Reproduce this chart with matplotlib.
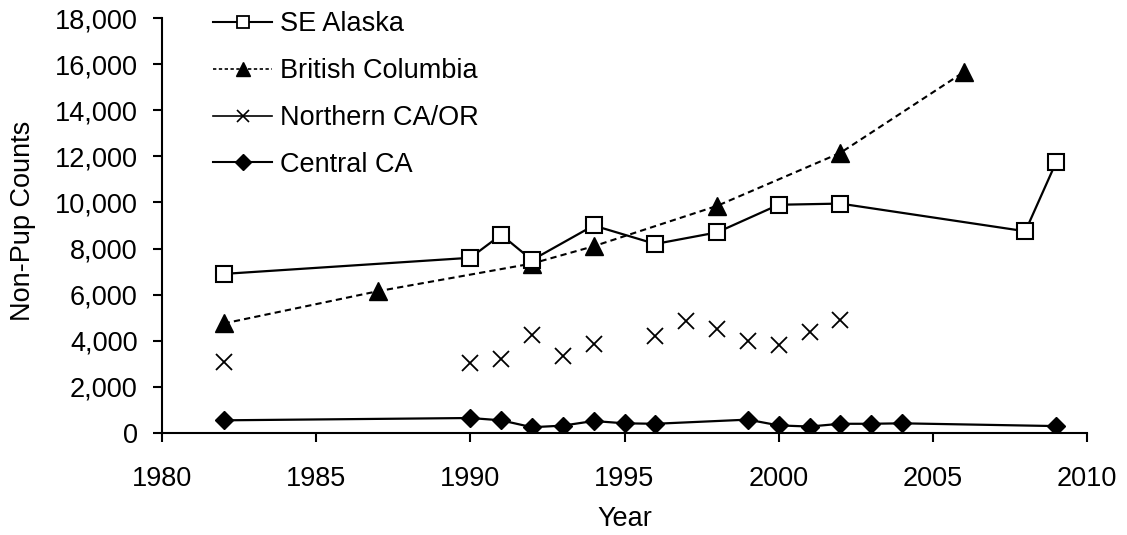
#!/usr/bin/env python3
"""Non-pup counts by region, 1980-2010."""
import matplotlib
matplotlib.use("Agg")
import matplotlib.pyplot as plt
from matplotlib.lines import Line2D
from matplotlib.ticker import FuncFormatter

plt.rcParams["font.family"] = ["Liberation Sans", "DejaVu Sans"]

se_years = [1982, 1990, 1991, 1992, 1994, 1996, 1998, 2000, 2002, 2008, 2009]
se_counts = [6900, 7600, 8600, 7500, 9000, 8200, 8700, 9900, 9950, 8750, 11750]

bc_years = [1982, 1987, 1992, 1994, 1998, 2002, 2006]
bc_counts = [4750, 6150, 7350, 8100, 9850, 12150, 15650]

nor_years = [1982, 1990, 1991, 1992, 1993, 1994, 1996, 1997, 1998, 1999, 2000, 2001, 2002]
nor_counts = [3100, 3050, 3200, 4250, 3350, 3850, 4200, 4850, 4500, 4000, 3800, 4400, 4900]

cen_years = [1982, 1990, 1991, 1992, 1993, 1994, 1995, 1996, 1999, 2000, 2001, 2002, 2003, 2004, 2009]
cen_counts = [550, 650, 550, 250, 320, 520, 420, 400, 580, 330, 280, 400, 400, 420, 300]

labels = ["SE Alaska", "British Columbia", "Northern CA/OR", "Central CA"]

FS = 19.5

fig = plt.figure(figsize=(11.27, 5.35), dpi=100)
ax = fig.add_axes([162 / 1127, 1 - 433 / 535, (1087 - 162) / 1127, (433 - 18) / 535])

ax.plot(se_years, se_counts, color="black", lw=1.6, marker="s", ms=11.5,
        mfc="white", mec="black", mew=1.5, zorder=3)
ax.plot(bc_years, bc_counts, color="black", lw=1.5, ls=(0, (3, 2)), marker="^",
        ms=13, mfc="black", mec="black", zorder=2)
ax.plot(nor_years, nor_counts, ls="none", marker="x", ms=12, mec="black", mew=1.3)
ax.plot(cen_years, cen_counts, color="black", lw=1.6, marker="D", ms=9,
        mfc="black", mec="black")

handles = [
    Line2D([], [], color="black", lw=1.5, marker="s", ms=9, mfc="white", mew=1.3),
    Line2D([], [], color="black", lw=1.2, ls=(0, (2, 1.5)), marker="^", ms=10, mfc="black"),
    Line2D([], [], color="black", lw=1.2, marker="x", ms=9, mew=1.2),
    Line2D([], [], color="black", lw=1.5, marker="D", ms=8, mfc="black"),
]
ax.legend(handles, labels, loc="upper left", bbox_to_anchor=(0.055, 1.016),
          frameon=False, fontsize=FS, handlelength=2.2, labelspacing=0.77,
          handletextpad=0.27, borderpad=0, borderaxespad=0)

ax.set_xlim(1980, 2010)
ax.set_ylim(0, 18000)
ax.set_xticks(range(1980, 2011, 5))
ax.set_yticks(range(0, 18001, 2000))
ax.yaxis.set_major_formatter(FuncFormatter(lambda v, p: f"{v:,.0f}"))
ax.tick_params(direction="out", length=6.5, width=1.5, labelsize=FS)
ax.tick_params(axis="x", pad=17)
ax.tick_params(axis="y", pad=11)
for side in ("top", "right"):
    ax.spines[side].set_visible(False)
for side in ("left", "bottom"):
    ax.spines[side].set_linewidth(1.5)

ax.set_xlabel("Year", fontsize=FS, va="center")
ax.set_ylabel("Non-Pup Counts", fontsize=FS, va="center")
ax.xaxis.set_label_coords(0.5, (433 - 519) / 415)
ax.yaxis.set_label_coords((23 - 162) / 925, 0.51)

fig.savefig("out.png", dpi=100)
